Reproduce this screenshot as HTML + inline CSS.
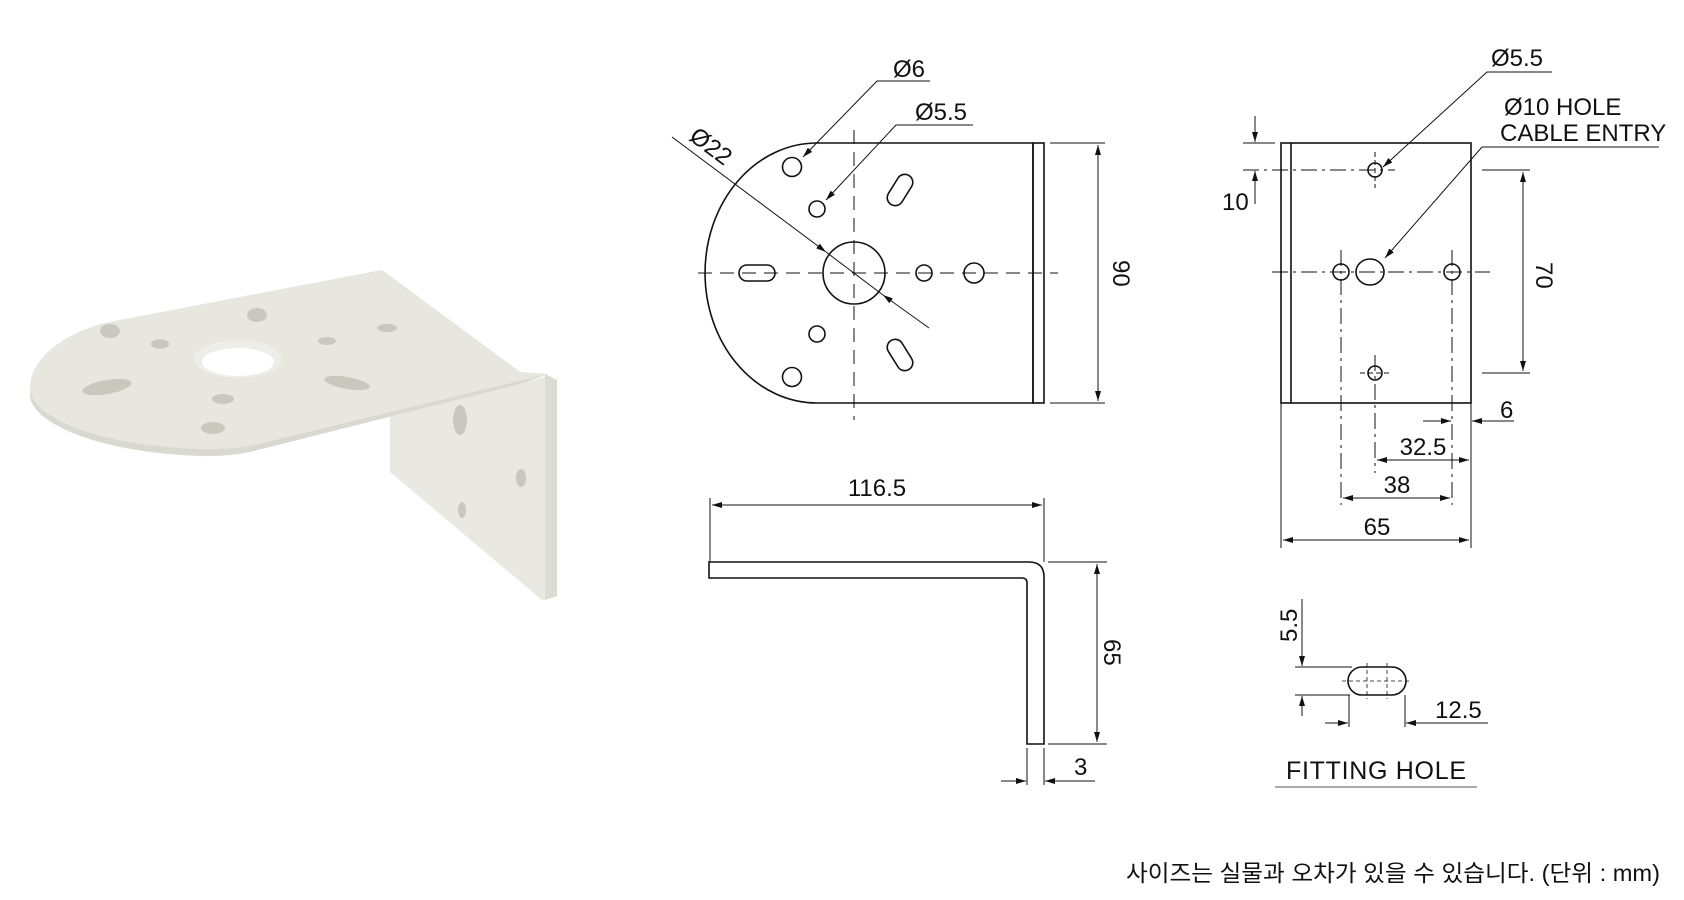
<!DOCTYPE html>
<html><head><meta charset="utf-8"><style>
html,body{margin:0;padding:0;background:#fff;}
svg{display:block;}
text{font-family:"Liberation Sans","Noto Sans CJK KR",sans-serif;fill:#111;}
</style></head><body>
<svg width="1684" height="900" viewBox="0 0 1684 900" xmlns="http://www.w3.org/2000/svg">
<defs>
<marker id="a" viewBox="0 0 10 6" refX="10" refY="3" markerWidth="10" markerHeight="6" markerUnits="userSpaceOnUse" orient="auto-start-reverse"><path d="M0,0 L10,3 L0,6 Z" fill="#111"/></marker>
</defs>

<!-- PHOTO -->
<g>
<path d="M390 417 L548 376 L557 380 L557 596 L542 600 L390 472 Z" fill="#e9e9e2"/>
<path d="M545 374 L557 380 L557 596 L545 600 Z" fill="#dcdcd3"/>
<path d="M110 322 L382 270 L520 372 L548 374 L520 384 L250 452 Q225 457 200 456 C90 452 30 420 30 395 C30 360 70 330 110 322 Z" fill="#d9d9d0"/>
<path d="M110 322 L382 270 L520 372 L548 374 L250 446 Q225 450 200 449 C90 445 30 415 30 388 C30 356 70 330 110 322 Z" fill="#e7e7e0"/>
<g fill="#c8c8be">
<ellipse cx="110" cy="331" rx="10" ry="7"/><ellipse cx="160" cy="344" rx="9" ry="5"/>
<ellipse cx="257" cy="315" rx="10" ry="7"/><ellipse cx="327" cy="341" rx="9" ry="4"/>
<ellipse cx="387" cy="328" rx="10" ry="4"/><ellipse cx="107" cy="387" rx="25" ry="7" transform="rotate(-10 107 387)"/>
<ellipse cx="223" cy="399" rx="11" ry="5"/><ellipse cx="347" cy="383" rx="23" ry="6" transform="rotate(10 347 383)"/>
<ellipse cx="213" cy="428" rx="12" ry="6"/>
<ellipse cx="460" cy="420" rx="7" ry="15"/><ellipse cx="521" cy="478" rx="5" ry="9"/><ellipse cx="462" cy="510" rx="4" ry="8"/>
</g>
<ellipse cx="238" cy="359" rx="44" ry="19" fill="#eeeee8"/>
<ellipse cx="238" cy="362" rx="36" ry="14" fill="#fff"/>
</g>

<!-- TOP VIEW -->
<g fill="none" stroke="#111" stroke-width="1.6">
<path d="M817 143 L1033 143 L1033 403 L817 403 A112 130 0 0 1 817 143 Z"/>
<rect x="1033" y="143" width="11" height="260"/>
<circle cx="854" cy="273" r="31"/>
<circle cx="792" cy="167" r="9.5"/><circle cx="817" cy="209" r="8"/>
<circle cx="924" cy="273" r="8"/><circle cx="974" cy="273" r="10"/>
<circle cx="817" cy="334" r="8"/><circle cx="792" cy="377" r="9.5"/>
<rect x="739" y="265" width="36" height="16" rx="8"/>
<rect x="883" y="182" width="34" height="16" rx="8" transform="rotate(-58 900 190)"/>
<rect x="883" y="347" width="34" height="16" rx="8" transform="rotate(58 900 355)"/>
</g>
<g stroke="#111" stroke-width="1" fill="none">
<line x1="698" y1="273" x2="1058" y2="273" stroke-dasharray="14 8"/>
<line x1="854" y1="130" x2="854" y2="420" stroke-dasharray="14 8"/>
<line x1="1050" y1="143" x2="1105" y2="143"/><line x1="1050" y1="403" x2="1105" y2="403"/>
<line x1="1098" y1="145" x2="1098" y2="401" marker-start="url(#a)" marker-end="url(#a)"/>
<polyline points="930,81 877,81 803,157" marker-end="url(#a)"/>
<polyline points="973,125 896,125 826,200" marker-end="url(#a)"/>
<line x1="672" y1="137" x2="826" y2="252" marker-end="url(#a)"/>
<line x1="826" y1="252" x2="883" y2="295"/>
<line x1="929" y1="328" x2="883" y2="295" marker-end="url(#a)"/>
</g>
<text x="893" y="77" font-size="24">Ø6</text>
<text x="915" y="120" font-size="24">Ø5.5</text>
<text x="0" y="0" font-size="24" transform="translate(688 139) rotate(37)">Ø22</text>
<text x="0" y="0" font-size="24" transform="translate(1113 260) rotate(90)">90</text>

<!-- SIDE VIEW -->
<path d="M709 562 L1029 562 Q1044 562 1044 577 L1044 744 L1027 744 L1027 583 Q1027 578 1022 578 L709 578 Z" fill="none" stroke="#111" stroke-width="1.6"/>
<g stroke="#111" stroke-width="1" fill="none">
<line x1="710" y1="498" x2="710" y2="562"/><line x1="1044" y1="498" x2="1044" y2="562"/>
<line x1="712" y1="505" x2="1042" y2="505" marker-start="url(#a)" marker-end="url(#a)"/>
<line x1="1048" y1="562" x2="1107" y2="562"/><line x1="1048" y1="744" x2="1107" y2="744"/>
<line x1="1097" y1="564" x2="1097" y2="742" marker-start="url(#a)" marker-end="url(#a)"/>
<line x1="1027" y1="748" x2="1027" y2="785"/><line x1="1044" y1="748" x2="1044" y2="785"/>
<line x1="1001" y1="781" x2="1026" y2="781" marker-end="url(#a)"/>
<line x1="1095" y1="781" x2="1045" y2="781" marker-end="url(#a)"/>
</g>
<text x="877" y="496" font-size="24" text-anchor="middle">116.5</text>
<text x="0" y="0" font-size="24" transform="translate(1104 639) rotate(90)">65</text>
<text x="1074" y="775" font-size="24">3</text>

<!-- FRONT VIEW -->
<g fill="none" stroke="#111" stroke-width="1.6">
<rect x="1281" y="143" width="190" height="260"/>
<line x1="1291" y1="143" x2="1291" y2="403"/>
<circle cx="1375" cy="170" r="7"/><circle cx="1341" cy="272" r="8"/>
<ellipse cx="1370" cy="272" rx="14" ry="13"/><circle cx="1452" cy="272" r="8"/>
<circle cx="1375" cy="373" r="7"/>
</g>
<g stroke="#111" stroke-width="1" fill="none">
<line x1="1243" y1="170" x2="1395" y2="170" stroke-dasharray="16 5 3 5"/>
<line x1="1272" y1="272" x2="1490" y2="272" stroke-dasharray="16 5 3 5"/>
<line x1="1375" y1="152" x2="1375" y2="188" stroke-dasharray="5 3"/>
<line x1="1360" y1="373" x2="1392" y2="373" stroke-dasharray="5 3"/>
<line x1="1375" y1="355" x2="1375" y2="473" stroke-dasharray="16 5 3 5"/>
<line x1="1341" y1="250" x2="1341" y2="505" stroke-dasharray="16 5 3 5"/>
<line x1="1452" y1="250" x2="1452" y2="505" stroke-dasharray="16 5 3 5"/>
<line x1="1243" y1="143" x2="1275" y2="143"/>
<line x1="1255" y1="116" x2="1255" y2="142" marker-end="url(#a)"/>
<line x1="1255" y1="204" x2="1255" y2="171" marker-end="url(#a)"/>
<line x1="1482" y1="170" x2="1530" y2="170"/><line x1="1482" y1="373" x2="1530" y2="373"/>
<line x1="1523" y1="172" x2="1523" y2="371" marker-start="url(#a)" marker-end="url(#a)"/>
<line x1="1423" y1="421" x2="1451" y2="421" marker-end="url(#a)"/>
<line x1="1514" y1="421" x2="1472" y2="421" marker-end="url(#a)"/>
<line x1="1471" y1="403" x2="1471" y2="548"/><line x1="1281" y1="403" x2="1281" y2="548"/>
<line x1="1377" y1="460" x2="1469" y2="460" marker-start="url(#a)" marker-end="url(#a)"/>
<line x1="1343" y1="498" x2="1450" y2="498" marker-start="url(#a)" marker-end="url(#a)"/>
<line x1="1283" y1="540" x2="1469" y2="540" marker-start="url(#a)" marker-end="url(#a)"/>
<polyline points="1552,72 1487,72 1383,167" marker-end="url(#a)"/>
<polyline points="1659,147 1482,147 1385,258" marker-end="url(#a)"/>
</g>
<text x="1222" y="210" font-size="24">10</text>
<text x="0" y="0" font-size="24" transform="translate(1536 262) rotate(90)">70</text>
<text x="1500" y="418" font-size="24">6</text>
<text x="1423" y="455" font-size="24" text-anchor="middle">32.5</text>
<text x="1397" y="493" font-size="24" text-anchor="middle">38</text>
<text x="1377" y="535" font-size="24" text-anchor="middle">65</text>
<text x="1491" y="66" font-size="24">Ø5.5</text>
<text x="1504" y="115" font-size="24">Ø10 HOLE</text>
<text x="1500" y="141" font-size="24">CABLE ENTRY</text>

<!-- FITTING HOLE -->
<rect x="1348" y="667" width="58" height="28" rx="14" fill="none" stroke="#111" stroke-width="1.6"/>
<g stroke="#111" stroke-width="0.8" fill="none">
<line x1="1342" y1="681" x2="1412" y2="681" stroke-dasharray="4 3"/>
<line x1="1367" y1="663" x2="1367" y2="699" stroke-dasharray="4 3"/>
<line x1="1387" y1="663" x2="1387" y2="699" stroke-dasharray="4 3"/>
</g>
<g stroke="#111" stroke-width="1" fill="none">
<line x1="1295" y1="667" x2="1352" y2="667"/><line x1="1295" y1="695" x2="1350" y2="695"/>
<line x1="1302" y1="599" x2="1302" y2="666" marker-end="url(#a)"/>
<line x1="1302" y1="716" x2="1302" y2="696" marker-end="url(#a)"/>
<line x1="1349" y1="695" x2="1349" y2="727"/><line x1="1405" y1="695" x2="1405" y2="727"/>
<line x1="1325" y1="723" x2="1348" y2="723" marker-end="url(#a)"/>
<line x1="1488" y1="723" x2="1406" y2="723" marker-end="url(#a)"/>
<line x1="1275" y1="787" x2="1477" y2="787" stroke="#555"/>
</g>
<text x="0" y="0" font-size="24" transform="translate(1297 642) rotate(-90)">5.5</text>
<text x="1435" y="718" font-size="24">12.5</text>
<text x="1286" y="779" font-size="25" textLength="180">FITTING HOLE</text>

<text x="1126" y="881" font-size="23" textLength="534" lengthAdjust="spacingAndGlyphs">사이즈는 실물과 오차가 있을 수 있습니다. (단위 : mm)</text>
</svg>
</body></html>
